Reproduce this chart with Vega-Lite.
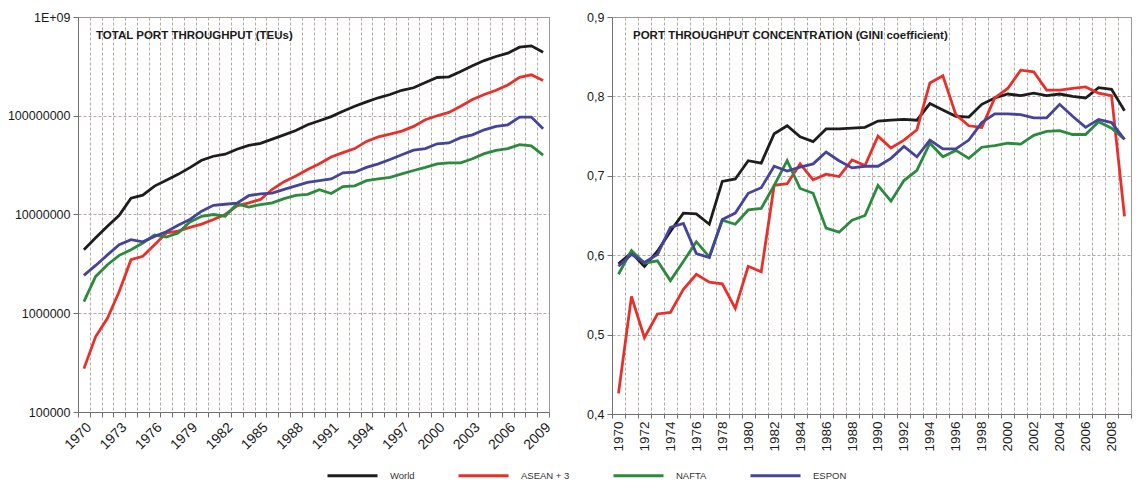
{
  "$schema": "https://vega.github.io/schema/vega-lite/v6.json",
  "padding": {"left": 6, "top": 10, "right": 5, "bottom": 5},
  "background": "white",
  "datasets": {
    "teu": [
      {"year":1970,"World":4400000,"ASEAN + 3":275000,"NAFTA":1310000,"ESPON":2420000},
      {"year":1971,"World":5800000,"ASEAN + 3":580000,"NAFTA":2360000,"ESPON":3050000},
      {"year":1972,"World":7600000,"ASEAN + 3":890000,"NAFTA":3100000,"ESPON":3900000},
      {"year":1973,"World":9800000,"ASEAN + 3":1660000,"NAFTA":3860000,"ESPON":4950000},
      {"year":1974,"World":14600000,"ASEAN + 3":3480000,"NAFTA":4400000,"ESPON":5570000},
      {"year":1975,"World":15700000,"ASEAN + 3":3770000,"NAFTA":5150000,"ESPON":5280000},
      {"year":1976,"World":19400000,"ASEAN + 3":4950000,"NAFTA":6200000,"ESPON":6000000},
      {"year":1977,"World":22200000,"ASEAN + 3":6500000,"NAFTA":5900000,"ESPON":6700000},
      {"year":1978,"World":25500000,"ASEAN + 3":6800000,"NAFTA":6500000,"ESPON":7800000},
      {"year":1979,"World":29800000,"ASEAN + 3":7400000,"NAFTA":8400000,"ESPON":8900000},
      {"year":1980,"World":35400000,"ASEAN + 3":8000000,"NAFTA":9600000,"ESPON":10800000},
      {"year":1981,"World":38900000,"ASEAN + 3":8900000,"NAFTA":10000000,"ESPON":12400000},
      {"year":1982,"World":40800000,"ASEAN + 3":10000000,"NAFTA":9600000,"ESPON":12700000},
      {"year":1983,"World":45800000,"ASEAN + 3":12200000,"NAFTA":12800000,"ESPON":13000000},
      {"year":1984,"World":50000000,"ASEAN + 3":13100000,"NAFTA":11900000,"ESPON":15500000},
      {"year":1985,"World":52500000,"ASEAN + 3":14200000,"NAFTA":12600000,"ESPON":16200000},
      {"year":1986,"World":58000000,"ASEAN + 3":18000000,"NAFTA":13100000,"ESPON":16500000},
      {"year":1987,"World":64000000,"ASEAN + 3":21500000,"NAFTA":14500000,"ESPON":18000000},
      {"year":1988,"World":71000000,"ASEAN + 3":24500000,"NAFTA":15600000,"ESPON":19500000},
      {"year":1989,"World":81000000,"ASEAN + 3":28500000,"NAFTA":16000000,"ESPON":21100000},
      {"year":1990,"World":89000000,"ASEAN + 3":32600000,"NAFTA":17800000,"ESPON":22000000},
      {"year":1991,"World":98000000,"ASEAN + 3":38200000,"NAFTA":16300000,"ESPON":22900000},
      {"year":1992,"World":111000000,"ASEAN + 3":42300000,"NAFTA":19200000,"ESPON":26400000},
      {"year":1993,"World":125000000,"ASEAN + 3":46500000,"NAFTA":19500000,"ESPON":26800000},
      {"year":1994,"World":138000000,"ASEAN + 3":55000000,"NAFTA":22000000,"ESPON":30000000},
      {"year":1995,"World":152000000,"ASEAN + 3":61000000,"NAFTA":22900000,"ESPON":32600000},
      {"year":1996,"World":164000000,"ASEAN + 3":65000000,"NAFTA":23800000,"ESPON":36100000},
      {"year":1997,"World":181000000,"ASEAN + 3":70000000,"NAFTA":25800000,"ESPON":40300000},
      {"year":1998,"World":192000000,"ASEAN + 3":78000000,"NAFTA":27900000,"ESPON":44800000},
      {"year":1999,"World":217000000,"ASEAN + 3":91000000,"NAFTA":30000000,"ESPON":46500000},
      {"year":2000,"World":244000000,"ASEAN + 3":100000000,"NAFTA":32600000,"ESPON":52000000},
      {"year":2001,"World":248000000,"ASEAN + 3":108000000,"NAFTA":33400000,"ESPON":53000000},
      {"year":2002,"World":281000000,"ASEAN + 3":125000000,"NAFTA":33400000,"ESPON":60000000},
      {"year":2003,"World":321000000,"ASEAN + 3":146000000,"NAFTA":36700000,"ESPON":64000000},
      {"year":2004,"World":362000000,"ASEAN + 3":164000000,"NAFTA":41300000,"ESPON":72000000},
      {"year":2005,"World":398000000,"ASEAN + 3":181000000,"NAFTA":44700000,"ESPON":78000000},
      {"year":2006,"World":430000000,"ASEAN + 3":205000000,"NAFTA":46500000,"ESPON":81000000},
      {"year":2007,"World":495000000,"ASEAN + 3":245000000,"NAFTA":51000000,"ESPON":97000000},
      {"year":2008,"World":510000000,"ASEAN + 3":260000000,"NAFTA":49500000,"ESPON":97000000},
      {"year":2009,"World":440000000,"ASEAN + 3":228000000,"NAFTA":40000000,"ESPON":74000000}
    ],
    "gini": [
      {"year":1970,"World":0.589,"ASEAN + 3":0.426,"NAFTA":0.576,"ESPON":0.586},
      {"year":1971,"World":0.603,"ASEAN + 3":0.548,"NAFTA":0.606,"ESPON":0.601},
      {"year":1972,"World":0.586,"ASEAN + 3":0.496,"NAFTA":0.590,"ESPON":0.591},
      {"year":1973,"World":0.605,"ASEAN + 3":0.526,"NAFTA":0.593,"ESPON":0.601},
      {"year":1974,"World":0.630,"ASEAN + 3":0.528,"NAFTA":0.568,"ESPON":0.635},
      {"year":1975,"World":0.653,"ASEAN + 3":0.557,"NAFTA":0.592,"ESPON":0.640},
      {"year":1976,"World":0.652,"ASEAN + 3":0.576,"NAFTA":0.617,"ESPON":0.602},
      {"year":1977,"World":0.639,"ASEAN + 3":0.566,"NAFTA":0.598,"ESPON":0.597},
      {"year":1978,"World":0.693,"ASEAN + 3":0.564,"NAFTA":0.644,"ESPON":0.645},
      {"year":1979,"World":0.696,"ASEAN + 3":0.533,"NAFTA":0.639,"ESPON":0.653},
      {"year":1980,"World":0.719,"ASEAN + 3":0.586,"NAFTA":0.657,"ESPON":0.678},
      {"year":1981,"World":0.716,"ASEAN + 3":0.579,"NAFTA":0.659,"ESPON":0.685},
      {"year":1982,"World":0.753,"ASEAN + 3":0.688,"NAFTA":0.688,"ESPON":0.712},
      {"year":1983,"World":0.763,"ASEAN + 3":0.690,"NAFTA":0.719,"ESPON":0.706},
      {"year":1984,"World":0.749,"ASEAN + 3":0.715,"NAFTA":0.684,"ESPON":0.711},
      {"year":1985,"World":0.743,"ASEAN + 3":0.695,"NAFTA":0.678,"ESPON":0.715},
      {"year":1986,"World":0.759,"ASEAN + 3":0.702,"NAFTA":0.634,"ESPON":0.730},
      {"year":1987,"World":0.759,"ASEAN + 3":0.699,"NAFTA":0.629,"ESPON":0.719},
      {"year":1988,"World":0.760,"ASEAN + 3":0.720,"NAFTA":0.644,"ESPON":0.710},
      {"year":1989,"World":0.761,"ASEAN + 3":0.713,"NAFTA":0.650,"ESPON":0.712},
      {"year":1990,"World":0.769,"ASEAN + 3":0.750,"NAFTA":0.688,"ESPON":0.712},
      {"year":1991,"World":0.770,"ASEAN + 3":0.735,"NAFTA":0.668,"ESPON":0.722},
      {"year":1992,"World":0.771,"ASEAN + 3":0.745,"NAFTA":0.694,"ESPON":0.737},
      {"year":1993,"World":0.770,"ASEAN + 3":0.758,"NAFTA":0.707,"ESPON":0.724},
      {"year":1994,"World":0.791,"ASEAN + 3":0.817,"NAFTA":0.741,"ESPON":0.745},
      {"year":1995,"World":0.783,"ASEAN + 3":0.826,"NAFTA":0.724,"ESPON":0.734},
      {"year":1996,"World":0.775,"ASEAN + 3":0.777,"NAFTA":0.732,"ESPON":0.734},
      {"year":1997,"World":0.774,"ASEAN + 3":0.763,"NAFTA":0.722,"ESPON":0.745},
      {"year":1998,"World":0.790,"ASEAN + 3":0.761,"NAFTA":0.736,"ESPON":0.767},
      {"year":1999,"World":0.798,"ASEAN + 3":0.798,"NAFTA":0.738,"ESPON":0.778},
      {"year":2000,"World":0.803,"ASEAN + 3":0.810,"NAFTA":0.741,"ESPON":0.778},
      {"year":2001,"World":0.801,"ASEAN + 3":0.833,"NAFTA":0.740,"ESPON":0.777},
      {"year":2002,"World":0.804,"ASEAN + 3":0.831,"NAFTA":0.751,"ESPON":0.773},
      {"year":2003,"World":0.801,"ASEAN + 3":0.808,"NAFTA":0.756,"ESPON":0.773},
      {"year":2004,"World":0.803,"ASEAN + 3":0.808,"NAFTA":0.757,"ESPON":0.790},
      {"year":2005,"World":0.800,"ASEAN + 3":0.810,"NAFTA":0.752,"ESPON":0.775},
      {"year":2006,"World":0.798,"ASEAN + 3":0.812,"NAFTA":0.752,"ESPON":0.761},
      {"year":2007,"World":0.811,"ASEAN + 3":0.804,"NAFTA":0.768,"ESPON":0.771},
      {"year":2008,"World":0.809,"ASEAN + 3":0.801,"NAFTA":0.760,"ESPON":0.767},
      {"year":2009,"World":0.782,"ASEAN + 3":0.649,"NAFTA":0.746,"ESPON":0.746}
    ]
  },
  "spacing": 63,
  "bounds": "flush",
  "resolve": {
    "scale": {"color": "shared", "x": "independent", "y": "independent"},
    "legend": {"color": "shared"}
  },
  "hconcat": [
    {
      "data": {"name": "teu"},
      "width": 471,
      "height": 395,
      "title": {"text": "TOTAL PORT THROUGHPUT (TEUs)", "anchor": "start", "frame": "group", "offset": 0, "dx": 18, "dy": 30, "fontSize": 11.5, "fontWeight": "bold", "color": "#1a1a1a", "font": "Liberation Sans"},
      "transform": [{"fold": ["World", "ASEAN + 3", "NAFTA", "ESPON"], "as": ["region", "value"]}],
      "mark": {"type": "line", "strokeWidth": 2.8},
      "encoding": {
        "x": {
          "field": "year", "type": "ordinal", "bandPosition": 0.5,
          "scale": {"type": "band", "paddingInner": 0, "paddingOuter": 0},
          "axis": {"title": null, "tickBand": "extent", "grid": true, "labelAngle": -45, "labelFontSize": 14, "labelOverlap": false, "tickSize": 5, "labelPadding": 3,
                   "labelExpr": "(datum.value - 1970) % 3 == 0 ? datum.label : ''"}
        },
        "y": {
          "field": "value", "type": "quantitative",
          "scale": {"type": "log", "domain": [100000, 1000000000], "nice": false},
          "axis": {"title": null, "values": [100000, 1000000, 10000000, 100000000, 1000000000], "grid": true, "labelFontSize": 12.5, "tickSize": 5, "labelPadding": 3,
                   "labelExpr": "datum.value >= 1e9 ? '1E+09' : format(datum.value, 'd')"}
        },
        "color": {
          "field": "region", "type": "nominal",
          "scale": {"domain": ["World", "ASEAN + 3", "NAFTA", "ESPON"], "range": ["#1d1d1b", "#e8302a", "#2b8a3e", "#46449a"]},
          "legend": {"orient": "none", "legendX": 248, "legendY": 432, "direction": "horizontal", "columns": 4, "title": null,
                     "symbolType": "stroke", "symbolSize": 2500, "symbolStrokeWidth": 3, "labelFontSize": 9.5, "labelOffset": 11, "columnPadding": 37,
                     "labelColor": "#333333", "labelFont": "Liberation Sans"}
        }
      }
    },
    {
      "data": {"name": "gini"},
      "width": 519,
      "height": 397,
      "title": {"text": "PORT THROUGHPUT CONCENTRATION (GINI coefficient)", "anchor": "start", "frame": "group", "offset": 0, "dx": 21, "dy": 30, "fontSize": 11.5, "fontWeight": "bold", "color": "#1a1a1a", "font": "Liberation Sans"},
      "transform": [{"fold": ["World", "ASEAN + 3", "NAFTA", "ESPON"], "as": ["region", "value"]}],
      "mark": {"type": "line", "strokeWidth": 2.8},
      "encoding": {
        "x": {
          "field": "year", "type": "ordinal", "bandPosition": 0.5,
          "scale": {"type": "band", "paddingInner": 0, "paddingOuter": 0},
          "axis": {"title": null, "tickBand": "extent", "grid": true, "labelAngle": -90, "labelFontSize": 13.5, "labelOverlap": false, "tickSize": 4, "labelPadding": 3,
                   "labelExpr": "(datum.value - 1970) % 2 == 0 ? datum.label : ''"}
        },
        "y": {
          "field": "value", "type": "quantitative",
          "scale": {"domain": [0.4, 0.9], "nice": false, "zero": false},
          "axis": {"title": null, "values": [0.4, 0.5, 0.6, 0.7, 0.8, 0.9], "grid": true, "labelFontSize": 12.5, "tickSize": 5, "labelPadding": 3,
                   "labelExpr": "replace(format(datum.value, '.1f'), '.', ',')"}
        },
        "color": {
          "field": "region", "type": "nominal",
          "scale": {"domain": ["World", "ASEAN + 3", "NAFTA", "ESPON"], "range": ["#1d1d1b", "#e8302a", "#2b8a3e", "#46449a"]}
        }
      }
    }
  ],
  "config": {
    "font": "Liberation Sans",
    "view": {"stroke": "#9a9a9a", "strokeWidth": 1},
    "axis": {"domainColor": "#707070", "tickColor": "#707070", "gridColor": "#a0958f", "gridDash": [3, 2], "gridWidth": 0.8, "labelColor": "#1a1a1a", "labelFont": "Liberation Sans"}
  }
}
